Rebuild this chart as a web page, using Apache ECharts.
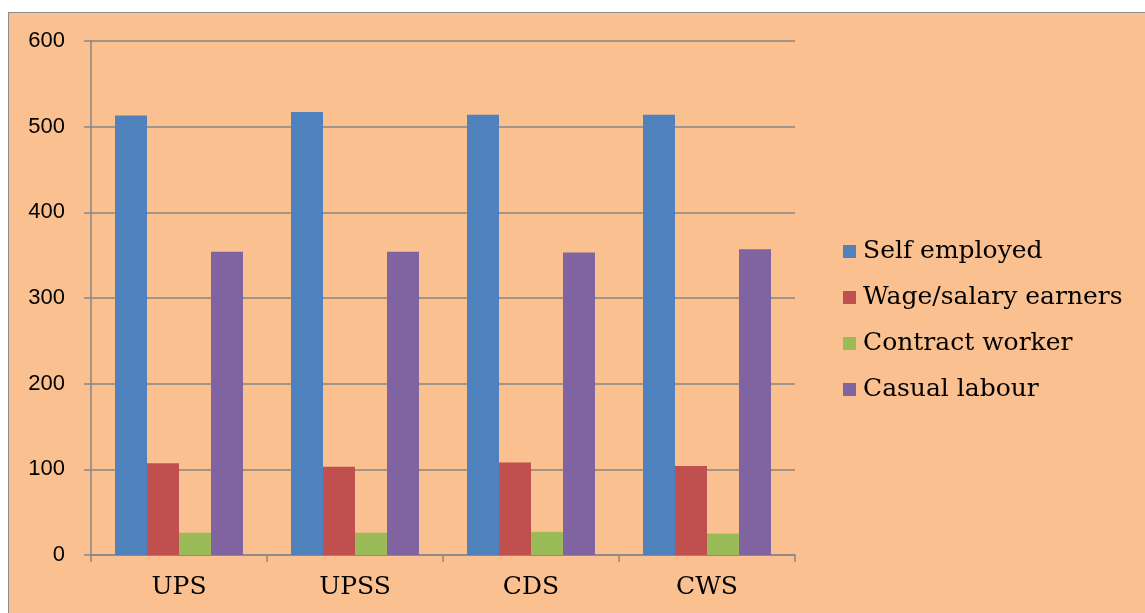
<!DOCTYPE html>
<html>
<head>
<meta charset="utf-8">
<script src="https://cdn.jsdelivr.net/npm/echarts@6/dist/echarts.min.js"></script>
<style>
html,body{margin:0;padding:0;background:#fff;overflow:hidden;}
#frame{position:absolute;left:8px;top:12px;width:1200px;height:700px;background:#FAC090;border-left:1px solid #8c8c8c;border-top:1px solid #8c8c8c;}
#chart{position:absolute;left:0;top:0;width:1145px;height:613px;}
</style>
</head>
<body>
<div id="frame"></div>
<div id="chart"></div>
<script>
const categories = ['UPS', 'UPSS', 'CDS', 'CWS'];
const seriesNames = ['Self employed', 'Wage/salary earners', 'Contract worker', 'Casual labour'];
const selfEmployed = [513, 517, 514, 514];
const wageSalary = [107, 103, 108, 104];
const contractWorker = [26, 26, 27, 25];
const casualLabour = [354, 354, 353, 357];
const yTicks = [0, 100, 200, 300, 400, 500, 600];

const colors = ['#4F81BD', '#C0504D', '#9BBB59', '#8064A2'];
const values = [selfEmployed, wageSalary, contractWorker, casualLabour];

const chart = echarts.init(document.getElementById('chart'));
chart.setOption({
  backgroundColor: 'transparent',
  animation: false,
  grid: { left: 91, right: 350, top: 41, bottom: 58, containLabel: false },
  legend: {
    orient: 'vertical',
    left: 838,
    top: 234,
    itemWidth: 13,
    itemHeight: 13,
    itemGap: 21,
    icon: 'rect',
    textStyle: { fontFamily: 'DejaVu Serif', fontSize: 25, color: '#000', lineHeight: 25, padding: [0, 0, 0, 2] },
    data: seriesNames
  },
  xAxis: {
    type: 'category',
    data: categories,
    axisLine: { lineStyle: { color: '#868686', width: 1.5 } },
    axisTick: { show: true, length: 7, alignWithLabel: false, lineStyle: { color: '#868686', width: 1.5 } },
    axisLabel: { fontFamily: 'DejaVu Serif', fontSize: 25, color: '#000', margin: 20 }
  },
  yAxis: {
    type: 'value',
    min: yTicks[0],
    max: yTicks[yTicks.length - 1],
    interval: 100,
    axisLine: { show: true, lineStyle: { color: '#868686', width: 1.5 } },
    axisTick: { show: true, length: 7, lineStyle: { color: '#868686', width: 1.5 } },
    axisLabel: { fontFamily: 'Liberation Sans', fontSize: 22, color: '#000', margin: 26 },
    splitLine: { show: true, lineStyle: { color: '#868686', width: 1.5 } }
  },
  series: seriesNames.map((name, i) => ({
    name: name,
    type: 'bar',
    data: values[i],
    barWidth: 32,
    barGap: '0%',
    itemStyle: { color: colors[i] }
  }))
});
</script>
</body>
</html>
